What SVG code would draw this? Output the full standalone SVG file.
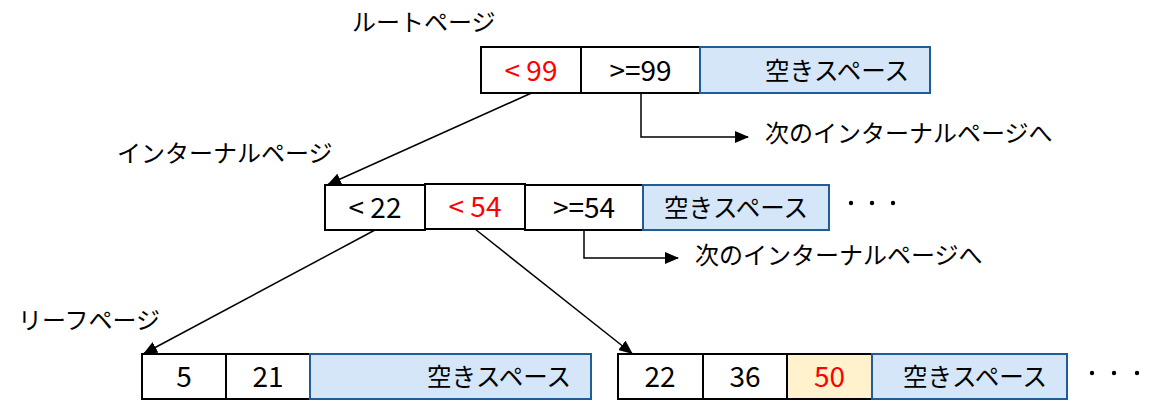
<svg xmlns="http://www.w3.org/2000/svg" width="1167" height="411" viewBox="0 0 1167 411">
<defs>
<marker id="ah" markerUnits="userSpaceOnUse" markerWidth="14" markerHeight="12" viewBox="0 0 14 12" refX="13" refY="6" orient="auto">
<path d="M0,0 L14,6 L0,12 Z" fill="#000"/>
</marker>
<style>
.cell{fill:#fff;stroke:#000;stroke-width:2}
.free{fill:#D4E6F8;stroke:#1F5C99;stroke-width:2}
.hl{fill:#FFF2CC;stroke:#000;stroke-width:2}
.num{font-family:"Noto Sans CJK JP","Noto Sans",sans-serif;font-size:28px;fill:#000;text-anchor:middle}
.red{fill:#FF0000}
.jp{font-family:"Noto Sans CJK JP",sans-serif;font-size:24px;fill:#000}
.fs{font-family:"Noto Sans CJK JP",sans-serif;font-size:24.5px;fill:#000}
.conn{fill:none;stroke:#000;stroke-width:1.5}
.dot{fill:#000}
</style>
</defs>
<rect width="1167" height="411" fill="#fff"/>

<g id="labels">
<text class="jp" x="352" y="31">ルートページ</text>
<text class="jp" x="117" y="162">インターナルページ</text>
<text class="jp" x="18" y="329">リーフページ</text>
</g>

<g id="root">
<rect class="cell" x="481" y="47" width="100" height="46"/>
<rect class="cell" x="581" y="47" width="119" height="46"/>
<rect class="free" x="700" y="47" width="230" height="46"/>
<text class="num red" x="531" y="81">&lt; 99</text>
<text class="num" x="640.5" y="81">&gt;=99</text>
<text class="fs" x="765" y="80">空きスペース</text>
</g>

<g id="internal">
<rect class="cell" x="325" y="185" width="100" height="45"/>
<rect class="cell" x="525" y="185" width="118" height="45"/>
<rect class="free" x="643" y="185" width="186" height="45"/>
<rect class="cell" x="425" y="184" width="100" height="45"/>
<text class="num" x="375" y="218">&lt; 22</text>
<text class="num red" x="475" y="217">&lt; 54</text>
<text class="num" x="584" y="218">&gt;=54</text>
<text class="fs" x="664" y="217">空きスペース</text>
<circle class="dot" cx="851" cy="203" r="2.2"/>
<circle class="dot" cx="872" cy="203" r="2.2"/>
<circle class="dot" cx="893" cy="203" r="2.2"/>
</g>

<g id="leaf1">
<rect class="cell" x="142" y="354" width="84" height="45"/>
<rect class="cell" x="226" y="354" width="84" height="45"/>
<rect class="free" x="310" y="354" width="281" height="45"/>
<text class="num" x="184" y="387">5</text>
<text class="num" x="268" y="387">21</text>
<text class="fs" x="427" y="386">空きスペース</text>
</g>

<g id="leaf2">
<rect class="cell" x="618" y="354" width="85" height="45"/>
<rect class="cell" x="703" y="354" width="84" height="45"/>
<rect class="hl" x="787" y="354" width="85" height="45"/>
<rect class="free" x="872" y="354" width="195" height="45"/>
<text class="num" x="660" y="387">22</text>
<text class="num" x="745" y="387">36</text>
<text class="num red" x="829.5" y="387">50</text>
<text class="fs" x="903" y="386">空きスペース</text>
<circle class="dot" cx="1092" cy="373" r="2.2"/>
<circle class="dot" cx="1114" cy="373" r="2.2"/>
<circle class="dot" cx="1137" cy="373" r="2.2"/>
</g>

<g id="next1">
<text class="jp" x="765" y="142">次のインターナルページへ</text>
</g>
<g id="next2">
<text class="jp" x="695" y="264">次のインターナルページへ</text>
</g>

<g id="connectors">
<line class="conn" x1="531.5" y1="93" x2="328" y2="184.5" marker-end="url(#ah)"/>
<polyline class="conn" points="641,93 641,137 748,137" marker-end="url(#ah)"/>
<line class="conn" x1="375" y1="230" x2="144" y2="353.5" marker-end="url(#ah)"/>
<line class="conn" x1="475" y1="229" x2="632" y2="353.5" marker-end="url(#ah)"/>
<polyline class="conn" points="584,230 584,258 678,258" marker-end="url(#ah)"/>
</g>
</svg>
